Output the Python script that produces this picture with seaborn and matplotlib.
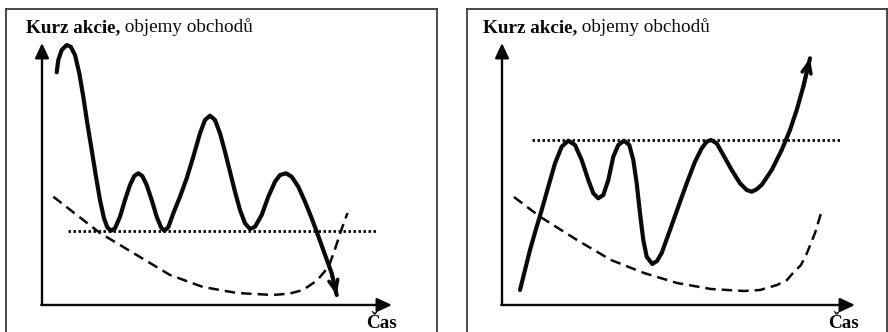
import matplotlib
matplotlib.use("Agg")
import matplotlib.pyplot as plt
import seaborn as sns
import pandas as pd

# ---- chart data (drawing units: x to the right, y downward) ----
# left panel: share price, support level, trading volume
left_price_x = [56.7, 58.3, 61.7, 66.7, 70.7, 75.0, 79.3, 83.3, 87.3, 91.7, 96.0, 100.0,
                104.0, 107.3, 111.0, 115.0, 120.0, 125.0, 130.0, 134.3, 138.3, 142.3,
                146.7, 151.7, 156.7, 161.0, 164.3, 168.3, 173.3, 180.0, 186.7, 193.3,
                200.0, 205.0, 210.0, 215.0, 220.0, 225.0, 230.0, 235.0, 240.0, 245.0,
                250.0, 255.0, 261.7, 268.3, 275.0, 280.0, 286.0, 291.7, 298.3, 305.0,
                311.7, 316.7, 323.3, 331.7, 336.7]
left_price_y = [72.3, 60.0, 50.0, 45.0, 46.7, 55.0, 73.3, 96.7, 123.3, 150.0, 176.7, 200.0,
                218.3, 227.3, 230.7, 228.3, 216.7, 200.0, 185.0, 176.0, 173.3, 176.0,
                185.0, 200.0, 216.7, 227.3, 230.7, 227.3, 213.3, 196.7, 178.3, 156.7,
                133.3, 120.0, 115.7, 120.0, 133.3, 151.7, 171.7, 191.7, 210.0, 223.3,
                229.0, 226.7, 215.0, 196.7, 181.7, 175.0, 173.3, 176.7, 186.7, 201.7,
                218.3, 231.7, 250.0, 273.3, 295.0]
left_support_x = [68.0, 377.0]
left_support_y = [230.7, 230.7]
left_volume_x = [53.3, 100.0, 150.0, 170.0, 203.0, 237.0, 273.0, 290.0, 303.0, 317.0,
                 325.0, 330.0, 334.0, 338.0, 342.0, 347.5]
left_volume_y = [196.7, 233.0, 263.0, 275.0, 287.0, 293.0, 295.0, 293.5, 290.0, 280.5,
                 271.0, 263.0, 252.0, 240.0, 228.0, 213.0]

# right panel: share price, resistance level, trading volume
right_price_x = [520.0, 525.0, 530.0, 535.7, 541.7, 548.3, 555.0, 561.7, 568.3, 575.0,
                 581.7, 588.3, 593.3, 598.3, 603.3, 608.3, 613.3, 618.3, 624.0, 629.3,
                 633.3, 636.7, 640.0, 643.3, 646.7, 652.3, 657.0, 661.7, 670.0, 678.3,
                 686.7, 695.0, 701.7, 706.7, 711.0, 716.7, 723.3, 731.7, 740.0, 746.7,
                 751.7, 756.7, 762.0, 771.7, 781.7, 790.0, 796.7, 803.3, 810.0]
right_price_y = [290.0, 270.0, 250.0, 230.0, 210.0, 186.7, 163.3, 146.7, 140.7, 145.0,
                 160.0, 180.0, 193.3, 198.3, 195.0, 180.0, 156.7, 145.0, 140.7, 145.0,
                 160.0, 183.3, 213.3, 240.0, 256.7, 264.0, 261.0, 253.0, 230.0, 206.7,
                 183.3, 161.7, 148.3, 141.7, 140.0, 143.3, 155.0, 170.0, 183.3, 190.0,
                 191.7, 189.3, 184.5, 170.0, 150.0, 130.0, 110.0, 86.7, 58.3]
right_resist_x = [532.0, 841.0]
right_resist_y = [140.0, 140.0]
right_volume_x = [514.0, 540.0, 577.0, 611.0, 644.0, 677.0, 711.0, 744.0, 760.0, 777.0,
                  787.0, 793.0, 801.0, 807.0, 811.0, 815.0, 822.0]
right_volume_y = [197.0, 216.7, 240.0, 260.0, 273.0, 283.0, 289.0, 291.0, 290.0, 285.0,
                  280.0, 273.0, 265.0, 253.0, 243.0, 233.0, 210.0]

title_bold = "Kurz akcie,"
title_rest = " objemy obchodů"
time_label = "Čas"

# ---- style ----
sns.set_theme(style="white")
plt.rcParams["font.family"] = ["Liberation Serif", "DejaVu Serif"]

W, H = 888, 332
fig = plt.figure(figsize=(W / 100, H / 100), dpi=100)
fig.patch.set_facecolor("white")

INK = "#0a0a0a"
FS = 13.8


def make_panel(x0, x1, top):
    ax = fig.add_axes([x0 / W, 0, (x1 - x0) / W, (H - top) / H])
    ax.set_xlim(x0, x1)
    ax.set_ylim(H, top)
    ax.set_xticks([])
    ax.set_yticks([])
    ax.set_facecolor("white")
    for side in ("left", "top", "right"):
        ax.spines[side].set_visible(True)
        ax.spines[side].set_color("#3a3a3a")
        ax.spines[side].set_linewidth(1.3)
    ax.spines["bottom"].set_visible(False)
    return ax


def draw_axes_arrows(ax, ox, oy, ytip, xtip):
    style = dict(arrowstyle="-|>,head_length=0.9,head_width=0.42", lw=1.7,
                 color=INK, shrinkA=0, shrinkB=0, mutation_scale=10)
    ax.annotate("", xy=(ox, ytip), xytext=(ox, oy), arrowprops=style)
    ax.annotate("", xy=(xtip, oy), xytext=(ox - 0.8, oy), arrowprops=style)


def draw_curves(ax, px, py, sx, sy, vx, vy):
    price = pd.DataFrame({"x": px, "y": py})
    level = pd.DataFrame({"x": sx, "y": sy})
    volume = pd.DataFrame({"x": vx, "y": vy})
    sns.lineplot(data=volume, x="x", y="y", ax=ax, sort=False, estimator=None,
                 color=INK, lw=1.8, linestyle=(0, (4.2, 2.4)))
    sns.lineplot(data=level, x="x", y="y", ax=ax, sort=False, estimator=None,
                 color=INK, lw=2.0, linestyle=(0, (0.9, 0.9)))
    line = sns.lineplot(data=price, x="x", y="y", ax=ax, sort=False, estimator=None,
                        color=INK, lw=3.0).lines[-1]
    line.set_solid_joinstyle("round")
    line.set_solid_capstyle("round")
    ax.annotate("", xy=(px[-1], py[-1]), xytext=(px[-2], py[-2]),
                arrowprops=dict(arrowstyle="->,head_length=0.75,head_width=0.32",
                                lw=2.6, color=INK, shrinkA=0, shrinkB=0,
                                mutation_scale=10))
    ax.set_xlabel("")
    ax.set_ylabel("")


def draw_texts(ax, tx, ty, cx, cy):
    t = ax.text(tx, ty, title_bold, fontsize=FS, fontweight="bold",
                ha="left", va="baseline", color=INK)
    fig.canvas.draw()
    w_pt = t.get_window_extent().width * 72 / fig.dpi
    ax.annotate(title_rest, xy=(tx, ty), xycoords="data",
                xytext=(w_pt, 0), textcoords="offset points",
                fontsize=FS, ha="left", va="baseline", color=INK)
    ax.text(cx, cy, time_label, fontsize=FS, fontweight="bold",
            ha="right", va="baseline", color=INK)


left = make_panel(6, 437, 9)
draw_axes_arrows(left, 42, 305, 43, 392)
draw_curves(left, left_price_x, left_price_y, left_support_x, left_support_y,
            left_volume_x, left_volume_y)
draw_texts(left, 26, 32, 397, 328)

right = make_panel(467, 887, 9)
draw_axes_arrows(right, 502, 305, 43, 855)
draw_curves(right, right_price_x, right_price_y, right_resist_x, right_resist_y,
            right_volume_x, right_volume_y)
draw_texts(right, 483, 32, 859, 328)

fig.savefig("out.png", dpi=100, facecolor="white")
